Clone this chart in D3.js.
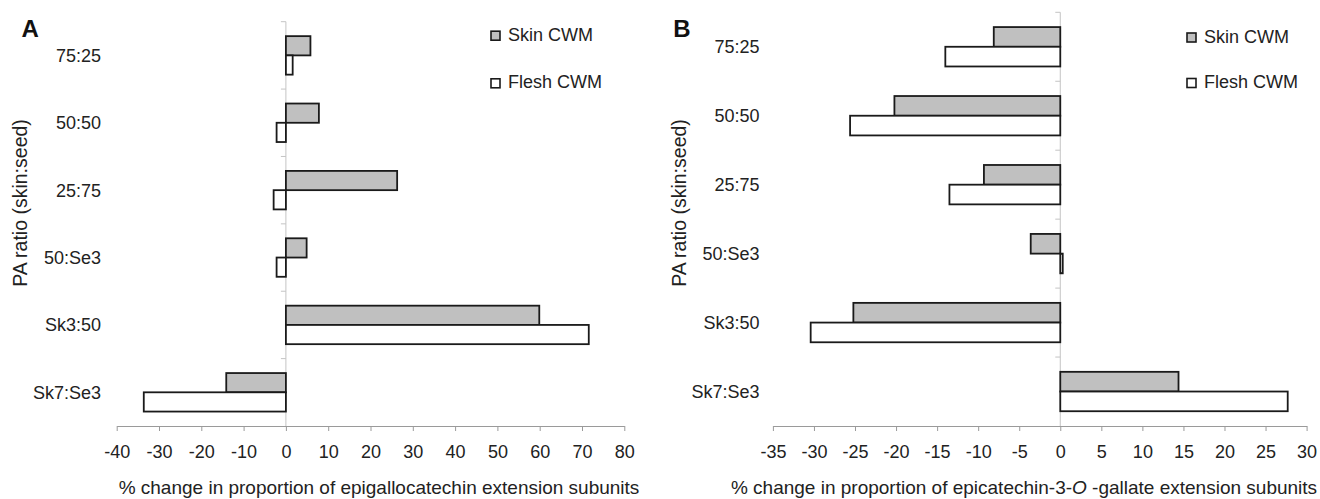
<!DOCTYPE html>
<html>
<head>
<meta charset="utf-8">
<script src="https://cdn.jsdelivr.net/npm/d3@7"></script>
<style>
  body { margin: 0; background: #fff; }
  svg { display: block; font-family: 'Liberation Sans', Arial, sans-serif; }
  .tick text { fill: #222; }
</style>
</head>
<body>
<svg id="chart" width="1320" height="499"></svg>
<script>
// values (% change)
var categories = ['75:25', '50:50', '25:75', '50:Se3', 'Sk3:50', 'Sk7:Se3'];
var seriesNames = ['Skin CWM', 'Flesh CWM'];

var skinA  = [5.8, 7.8, 26.3, 4.9, 59.9, -14.1];
var fleshA = [1.6, -2.2, -2.9, -2.2, 71.6, -33.6];

var skinB  = [-8.1, -20.2, -9.3, -3.6, -25.2, 14.4];
var fleshB = [-14.0, -25.6, -13.5, 0.3, -30.4, 27.7];

var ticksA = [-40, -30, -20, -10, 0, 10, 20, 30, 40, 50, 60, 70, 80];
var ticksB = [-35, -30, -25, -20, -15, -10, -5, 0, 5, 10, 15, 20, 25, 30];

var fills = ['#c0c0c0', '#ffffff'];

var svg = d3.select('#chart');

function drawPanel(p) {
  var g = svg.append('g');

  var x = d3.scaleLinear()
    .domain([p.ticks[0], p.ticks[p.ticks.length - 1]])
    .range([p.left, p.right]);

  var y = d3.scaleBand().domain(categories).range([p.top, p.bottom]);
  var ySub = d3.scaleBand().domain(seriesNames)
    .range([0, y.bandwidth()]).paddingInner(0).paddingOuter(0.75);

  // x axis
  var xAxis = g.append('g')
    .attr('transform', 'translate(0,' + p.bottom + ')')
    .call(d3.axisBottom(x).tickValues(p.ticks).tickSize(5).tickSizeOuter(0)
      .tickPadding(14).tickFormat(function (d) { return String(d); }));
  xAxis.selectAll('path, line').attr('stroke', '#9a9a9a');
  xAxis.selectAll('text').style('font-size', '18px');

  // vertical axis at zero, ticks on the band edges
  g.append('line')
    .attr('x1', x(0)).attr('x2', x(0))
    .attr('y1', p.top).attr('y2', p.bottom)
    .attr('stroke', '#c4c4c4');
  var edges = categories.map(function (c) { return y(c); });
  g.selectAll('line.ytick').data(edges).enter().append('line')
    .attr('class', 'ytick')
    .attr('x1', x(0) - 5).attr('x2', x(0))
    .attr('y1', function (d) { return d; }).attr('y2', function (d) { return d; })
    .attr('stroke', '#c4c4c4');

  // category labels
  g.selectAll('text.cat').data(categories).enter().append('text')
    .attr('class', 'cat')
    .attr('x', p.labelRight)
    .attr('y', function (d) { return y(d) + y.bandwidth() / 2; })
    .attr('dy', '0.36em')
    .attr('text-anchor', 'end')
    .style('font-size', '18px').attr('fill', '#222')
    .text(function (d) { return d; });

  // bars
  var series = [p.skin, p.flesh];
  series.forEach(function (vals, si) {
    g.selectAll('rect.s' + si).data(vals).enter().append('rect')
      .attr('class', 's' + si)
      .attr('x', function (d) { return x(Math.min(0, d)); })
      .attr('width', function (d) { return Math.abs(x(d) - x(0)); })
      .attr('y', function (d, i) { return y(categories[i]) + ySub(seriesNames[si]); })
      .attr('height', ySub.bandwidth())
      .attr('fill', fills[si])
      .attr('stroke', '#1a1a1a')
      .attr('stroke-width', 1.8);
  });

  // legend
  seriesNames.forEach(function (name, i) {
    g.append('rect')
      .attr('x', p.legendX).attr('y', p.legendY[i] - 9.5)
      .attr('width', 9).attr('height', 9)
      .attr('fill', fills[i]).attr('stroke', '#1a1a1a').attr('stroke-width', 1.6);
    g.append('text')
      .attr('x', p.legendX + 17).attr('y', p.legendY[i])
      .style('font-size', '18px').attr('fill', '#222')
      .text(name);
  });

  // panel letter
  g.append('text')
    .attr('x', p.letterX).attr('y', p.letterY)
    .style('font-size', '24px').style('font-weight', 'bold').attr('fill', '#111')
    .text(p.letter);

  // axis titles
  var xt = g.append('text')
    .attr('x', p.titleX).attr('y', 494)
    .attr('text-anchor', 'middle')
    .style('font-size', '19px').attr('fill', '#222');
  p.title.forEach(function (part) {
    xt.append('tspan').style('font-style', part.italic ? 'italic' : null).text(part.t);
  });

  g.append('text')
    .attr('transform', 'translate(' + p.yTitleX + ',203) rotate(-90)')
    .attr('text-anchor', 'middle')
    .style('font-size', '19.5px').attr('fill', '#222')
    .text('PA ratio (skin:seed)');
}

drawPanel({
  ticks: ticksA, skin: skinA, flesh: fleshA,
  left: 116.7, right: 624.3, top: 21.7, bottom: 426,
  labelRight: 101, legendX: 491, legendY: [40.7, 88.3],
  letter: 'A', letterX: 21.5, letterY: 37.3,
  titleX: 379, yTitleX: 26.5,
  title: [{t: '% change in proportion of epigallocatechin extension subunits'}]
});

drawPanel({
  ticks: ticksB, skin: skinB, flesh: fleshB,
  left: 772.9, right: 1306.6, top: 12.3, bottom: 426,
  labelRight: 759.5, legendX: 1187, legendY: [42.5, 88],
  letter: 'B', letterX: 673.3, letterY: 36.7,
  titleX: 1024, yTitleX: 686,
  title: [{t: '% change in proportion of epicatechin-3-'}, {t: 'O', italic: true}, {t: ' -gallate extension subunits'}]
});
</script>
</body>
</html>
